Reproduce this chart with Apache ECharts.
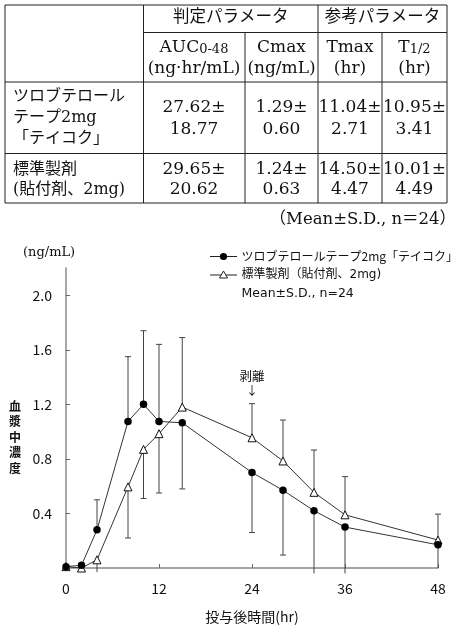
<!DOCTYPE html>
<html>
<head>
<meta charset="utf-8">
<script src="https://cdn.jsdelivr.net/npm/echarts@6/dist/echarts.min.js"></script>
<style>
  html, body { margin: 0; padding: 0; background: #fff; }
  #main { width: 453px; height: 625px; }
</style>
</head>
<body>
<div id="main"></div>
<script>
// --- table data ---
var groupHeads = ['判定パラメータ', '参考パラメータ'];
var paramNames = ['AUC{s|0-48}', 'Cmax', 'Tmax', 'T{s|1/2}'];
var paramUnits = ['(ng·hr/mL)', '(ng/mL)', '(hr)', '(hr)'];
var rowLabels = [['ツロブテロール', 'テープ2mg', '「テイコク」'], ['標準製剤', '(貼付剤、2mg)']];
var rowMeans = [[27.62, 1.29, 11.04, 10.95], [29.65, 1.24, 14.50, 10.01]];
var rowSDs = [[18.77, 0.60, 2.71, 3.41], [20.62, 0.63, 4.47, 4.49]];
var tableNote = '（Mean±S.D., n＝24）';

// --- chart data ---
var times = [0, 2, 4, 8, 10, 12, 15, 24, 28, 32, 36, 48];
var teikoku = [0.01, 0.02, 0.28, 1.075, 1.20, 1.075, 1.065, 0.70, 0.57, 0.42, 0.30, 0.17];
var standard = [0.01, 0.0, 0.06, 0.595, 0.87, 0.985, 1.18, 0.955, 0.785, 0.555, 0.39, 0.205];
// end of the drawn S.D. bar (null = not drawn)
var teikokuErrEnd = [null, null, 0.50, 1.55, 1.74, 1.64, 0.58, 0.26, 0.095, -0.04, -0.04, 0.0];
var standardErrEnd = [null, null, -0.03, 0.22, 0.51, 0.55, 1.69, 1.205, 1.085, 0.865, 0.67, 0.395];
var yTicks = [0.4, 0.8, 1.2, 1.6, 2.0];
var xTicks = [0, 12, 24, 36, 48];
var seriesNames = ['ツロブテロールテープ2mg「テイコク」', '標準製剤（貼付剤、2mg)'];
var legendNote = 'Mean±S.D., n=24';

var chart = echarts.init(document.getElementById('main'));

var serif = '"DejaVu Serif", "Noto Sans CJK JP", serif';
var sans = '"Noto Sans CJK JP", "Noto Sans", sans-serif';
var wideSans = '"DejaVu Sans", "Noto Sans CJK JP", sans-serif';

// table geometry
var tL = 5, tR = 447, tT = 5, tB = 203;
var cols = [143.5, 245, 318, 382];
var rowY = [32.5, 82, 153.5];
var colCenters = [194, 281.5, 350, 414.5];

function hline(x1, x2, y, c) {
  return { type: 'line', shape: { x1: x1, y1: y, x2: x2, y2: y }, style: { stroke: c || '#222', lineWidth: 1 } };
}
function vline(x, y1, y2) {
  return { type: 'line', shape: { x1: x, y1: y1, x2: x, y2: y2 }, style: { stroke: '#222', lineWidth: 1 } };
}
function txt(x, y, s, size, align, fam) {
  return {
    type: 'text', x: x, y: y,
    style: {
      text: s, fill: '#111', font: size + 'px ' + (fam || serif),
      align: align || 'center', verticalAlign: 'middle',
      rich: { s: { fontSize: size - 4, fontFamily: serif, fill: '#111', verticalAlign: 'bottom' } }
    }
  };
}

var g = [];
g.push(hline(tL, tR, tT), hline(cols[0], tR, rowY[0]), hline(tL, tR, rowY[1]), hline(tL, tR, rowY[2]), hline(tL, tR, tB));
g.push(vline(tL, tT, tB), vline(tR, tT, tB), vline(cols[0], tT, tB), vline(cols[2], tT, tB));
g.push(vline(cols[1], rowY[0], tB), vline(cols[3], rowY[0], tB));

g.push(txt((cols[0] + cols[2]) / 2, 18, groupHeads[0], 16.5));
g.push(txt((cols[2] + tR) / 2, 18, groupHeads[1], 16.5));
paramNames.forEach(function (p, i) {
  g.push(txt(colCenters[i], 48, p, 17));
  g.push(txt(colCenters[i], 68.5, paramUnits[i], 17));
});
var labelYs = [[97, 118, 138.5], [170, 190]];
var valueYs = [[108, 130], [170, 190]];
rowLabels.forEach(function (lines, r) {
  lines.forEach(function (l, k) {
    g.push(txt(13, labelYs[r][k], l, 16, 'left'));
  });
  rowMeans[r].forEach(function (m, c) {
    g.push(txt(colCenters[c], valueYs[r][0], m.toFixed(2) + '±', 17));
    g.push(txt(colCenters[c], valueYs[r][1], rowSDs[r][c].toFixed(2), 17));
  });
});
g.push(txt(456, 220, tableNote, 16.5, 'right'));

// chart texts
g.push(txt(23, 253, '(ng/mL)', 13, 'left'));
g.push({
  type: 'text', x: 15, y: 437,
  style: {
    text: '血\n漿\n中\n濃\n度', fill: '#111', font: 'bold 12px ' + sans,
    align: 'center', verticalAlign: 'middle', lineHeight: 15.5
  }
});

// legend
var legY = [256.5, 275];
g.push(hline(210, 237, legY[0], '#222'), hline(210, 237, legY[1], '#222'));
g.push({ type: 'circle', shape: { cx: 223.5, cy: legY[0], r: 3.6 }, style: { fill: '#000' } });
g.push({ type: 'polygon', shape: { points: [[223.5, legY[1] - 4], [227.5, legY[1] + 3], [219.5, legY[1] + 3]] },
  style: { fill: '#fff', stroke: '#222', lineWidth: 1 } });
g.push(txt(241.5, legY[0], seriesNames[0], 12, 'left', sans));
g.push(txt(241.5, legY[1], seriesNames[1], 12, 'left', wideSans));
g.push(txt(241.5, 293.5, legendNote, 12.5, 'left', wideSans));

function errRender(params, api) {
  var x = api.value(0), y = api.value(1), e = api.value(2);
  var p = api.coord([x, y]);
  var q = api.coord([x, e]);
  var st = { stroke: '#444', lineWidth: 1 };
  var ch = [{ type: 'line', shape: { x1: p[0], y1: p[1], x2: q[0], y2: q[1] }, style: st }];
  if (e > 0) ch.push({ type: 'line', shape: { x1: q[0] - 3, y1: q[1], x2: q[0] + 3, y2: q[1] }, style: st });
  return { type: 'group', children: ch };
}
function errData(vals, ends) {
  var out = [];
  times.forEach(function (t, i) {
    if (ends[i] !== null) out.push([t, vals[i], ends[i]]);
  });
  return out;
}

var option = {
  animation: false,
  backgroundColor: '#fff',
  textStyle: { fontFamily: sans },
  graphic: g,
  grid: { left: 66, right: 15, top: 268, bottom: 55.5 },
  xAxis: {
    type: 'value', min: 0, max: 48, interval: 12,
    name: '投与後時間(hr)', nameLocation: 'middle', nameGap: 42,
    nameTextStyle: { fontSize: 14, color: '#111', fontFamily: sans },
    axisLine: { lineStyle: { color: '#888', width: 1.5 } },
    axisTick: { inside: true, length: 4, lineStyle: { color: '#666' }, customValues: xTicks },
    axisLabel: { fontSize: 14, color: '#111', margin: 14, customValues: xTicks },
    splitLine: { show: false }
  },
  yAxis: {
    type: 'value', min: 0, max: 2.2, interval: 0.4,
    axisLine: { show: true, lineStyle: { color: '#888', width: 1.5 } },
    axisTick: { show: true, inside: true, length: 4, lineStyle: { color: '#666' }, customValues: yTicks },
    axisLabel: { fontSize: 14, color: '#111', margin: 14, customValues: yTicks,
      formatter: function (v) { return v.toFixed(1); } },
    splitLine: { show: false }
  },
  series: [
    {
      type: 'custom', renderItem: errRender, clip: false, z: 1, silent: true,
      data: errData(standard, standardErrEnd), encode: { x: 0, y: 1 }
    },
    {
      type: 'custom', renderItem: errRender, clip: false, z: 1, silent: true,
      data: errData(teikoku, teikokuErrEnd), encode: { x: 0, y: 1 }
    },
    {
      name: seriesNames[1], type: 'line', z: 3,
      data: times.map(function (t, i) { return [t, standard[i]]; }),
      symbol: 'triangle', symbolSize: 8, showAllSymbol: true,
      lineStyle: { color: '#333', width: 1 },
      itemStyle: { color: '#fff', borderColor: '#111', borderWidth: 1 }
    },
    {
      name: seriesNames[0], type: 'line', z: 4,
      data: times.map(function (t, i) { return [t, teikoku[i]]; }),
      symbol: 'circle', symbolSize: 7.5, showAllSymbol: true,
      lineStyle: { color: '#333', width: 1 },
      itemStyle: { color: '#000', borderColor: '#000', borderWidth: 0 }
    }
  ]
};
chart.setOption(option);

// 剥離 mark above the 24 hr S.D. cap
var cap = chart.convertToPixel({ gridIndex: 0 }, [24, standardErrEnd[7]]);
chart.setOption({
  graphic: g.concat([
    txt(cap[0], cap[1] - 27, '剥離', 12.5, 'center', sans),
    txt(cap[0], cap[1] - 13, '↓', 12, 'center', sans)
  ])
});
</script>
</body>
</html>
